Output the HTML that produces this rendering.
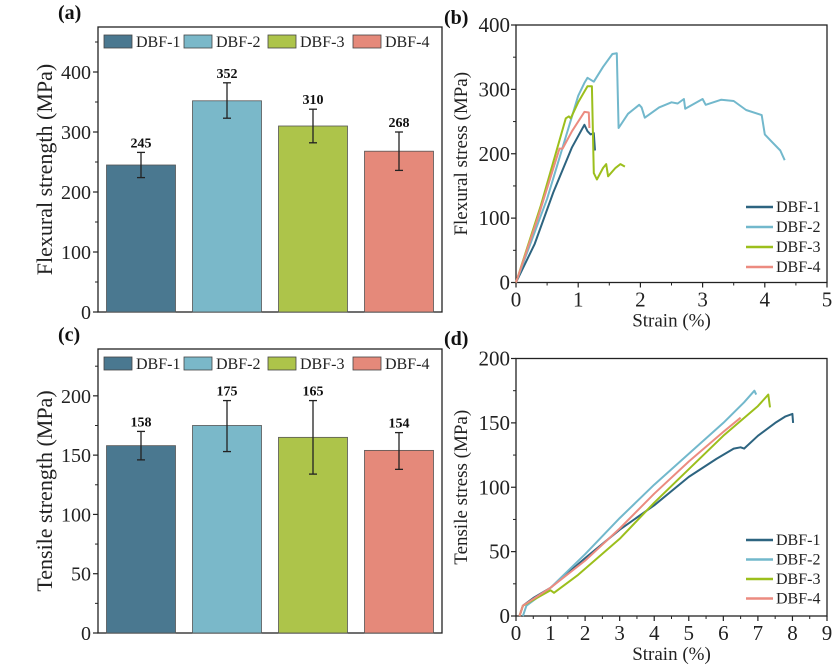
<!DOCTYPE html>
<html><head><meta charset="utf-8"><style>
body{margin:0;background:#fff;}
svg, svg text{font-family:"Liberation Serif","Times New Roman","DejaVu Serif",serif;}
svg{display:block;}
</style></head><body>
<svg id="fig" width="840" height="669" viewBox="0 0 840 669" xmlns="http://www.w3.org/2000/svg" font-family="Liberation Serif, Times New Roman, serif"></svg>
<script>
const barCats = ["DBF-1","DBF-2","DBF-3","DBF-4"];
const barColors = ["#4a7890","#7ab8c9","#adc44a","#e5897a"];
const lineColors = ["#2d6480","#72b8cc","#9cbf1c","#ec8b80"];
const flexVals = [245,352,310,268];
const flexErrHi = [266,382,338,300];
const flexErrLo = [224,323,282,236];
const flexTicks = [0,100,200,300,400];
const tensVals = [158,175,165,154];
const tensErrHi = [170,196,196,169];
const tensErrLo = [146,153,134,138];
const tensTicks = [0,50,100,150,200];
const bX = [0,1,2,3,4,5];
const bY = [0,100,200,300,400];
const flexCurve1 = [[0,0],[0.3,60],[0.6,140],[0.9,210],[1.1,245],[1.15,235],[1.2,230],[1.25,232],[1.27,205]];
const flexCurve2 = [[0,0],[0.5,130],[1,290],[1.1,310],[1.15,318],[1.25,312],[1.4,335],[1.55,355],[1.62,356],[1.65,240],[1.8,262],[1.98,276],[2.02,272],[2.07,256],[2.3,272],[2.5,280],[2.6,278],[2.7,285],[2.72,270],[3,285],[3.05,276],[3.3,284],[3.5,282],[3.7,268],[3.95,260],[4.0,230],[4.1,220],[4.25,205],[4.32,190]];
const flexCurve3 = [[0,0],[0.4,120],[0.8,255],[0.85,258],[0.88,255],[1.0,280],[1.15,305],[1.22,305],[1.25,170],[1.3,160],[1.4,178],[1.45,184],[1.48,165],[1.6,178],[1.68,184],[1.75,180]];
const flexCurve4 = [[0,0],[0.35,100],[0.7,208],[0.75,208],[0.9,235],[1.1,265],[1.17,264],[1.18,240]];
const dX = [0,1,2,3,4,5,6,7,8,9];
const dY = [0,50,100,150,200];
const tensCurve1 = [[0.1,0],[0.2,8],[0.5,14],[1,22],[2,45],[3,67],[4,86],[5,108],[5.8,122],[6.3,130],[6.5,131],[6.6,130],[7,140],[7.5,150],[7.8,155],[8,157],[8.02,150]];
const tensCurve2 = [[0.2,0],[0.3,8],[1,22],[2,48],[3,76],[4,102],[5,126],[6,150],[6.6,166],[6.9,175],[6.95,172]];
const tensCurve3 = [[0.1,0],[0.2,8],[1,20],[1.1,18],[1.8,32],[3,60],[4,88],[5,114],[6,140],[7,163],[7.3,172],[7.35,162]];
const tensCurve4 = [[0.1,0],[0.2,8],[1,22],[2,43],[3,68],[4,95],[5,120],[6,143],[6.5,154]];

const svg = document.getElementById('fig');
const NS = "http://www.w3.org/2000/svg";
const FONT = '"Liberation Serif", "Times New Roman", serif';
function mk(tag, attrs, parent, txt){
  const e = document.createElementNS(NS, tag);
  for (const k in attrs) e.setAttribute(k, attrs[k]);
  if (txt !== undefined) { e.textContent = txt; e.style.fontFamily = FONT; }
  (parent||svg).appendChild(e);
  return e;
}

function barPanel(o){
  const g = mk('g',{});
  
  
  const y = v => o.y0 - (v/o.ymax)*(o.y0-o.top);
  const fr = mk('rect',{x:o.left,y:o.top,width:o.right-o.left,height:o.y0-o.top,fill:'none',stroke:'#222','stroke-width':1.3},g);
  
  
  o.ticks.forEach(t=>{
    mk('line',{x1:o.left-5,x2:o.left,y1:y(t),y2:y(t),stroke:'#222','stroke-width':1.2},g);
    const tl = mk('text',{x:o.left-7,y:y(t)+7,'text-anchor':'end','font-size':20,fill:'#222'},g,String(t));
    
    
    const m = t + o.step/2;
    if (m <= o.ymax) mk('line',{x1:o.left-3,x2:o.left,y1:y(m),y2:y(m),stroke:'#222','stroke-width':1},g);
  });
  o.vals.forEach((v,i)=>{
    const bx = o.barX0 + i*o.pitch;
    const cx = bx + o.bw/2;
    const r = mk('rect',{x:bx,y:y(v),width:o.bw,height:o.y0-y(v),fill:barColors[i],stroke:'#555','stroke-width':0.8},g);
    
    
    mk('line',{x1:cx,x2:cx,y1:y(o.hi[i]),y2:y(o.lo[i]),stroke:'#222','stroke-width':1.3},g);
    mk('line',{x1:cx-4,x2:cx+4,y1:y(o.hi[i]),y2:y(o.hi[i]),stroke:'#222','stroke-width':1.3},g);
    mk('line',{x1:cx-4,x2:cx+4,y1:y(o.lo[i]),y2:y(o.lo[i]),stroke:'#222','stroke-width':1.3},g);
    const lbl = mk('text',{x:cx,y:y(o.hi[i])-5,'text-anchor':'middle','font-size':14,'font-weight':'bold',fill:'#111'},g,String(v));
    
    
  });
  const lx = [104,184,268,353];
  barCats.forEach((c,i)=>{
    const sw = mk('rect',{x:lx[i],y:o.legY,width:28,height:13,fill:barColors[i],stroke:'#444','stroke-width':0.8},g);
    
    
    const lt = mk('text',{x:lx[i]+32,y:o.legY+12,'font-size':16,fill:'#222'},g,c);
    
    
  });
  const at = mk('text',{transform:`translate(${o.titleX},${(o.top+o.y0)/2}) rotate(-90)`,'text-anchor':'middle','font-size':22,fill:'#222'},g,o.title);
  
  
  const pl = mk('text',{x:58,y:o.top-8,'font-size':20,'font-weight':'bold',fill:'#111'},g,o.label);
  
  
}

barPanel({name:'flexural-strength-chart',left:98,right:442,top:27,y0:312,ymax:475,ticks:flexTicks,step:100,vals:flexVals,hi:flexErrHi,lo:flexErrLo,barX0:106.5,pitch:86,bw:69,legY:35,title:'Flexural strength (MPa)',titleX:52,label:'(a)'});
barPanel({name:'tensile-strength-chart',left:98,right:442,top:349,y0:633,ymax:239.5,ticks:tensTicks,step:50,vals:tensVals,hi:tensErrHi,lo:tensErrLo,barX0:106.5,pitch:86,bw:69,legY:357,title:'Tensile strength (MPa)',titleX:52,label:'(c)'});

function linePanel(o){
  const g = mk('g',{});
  
  
  const xmax = o.xt[o.xt.length-1], ymax = o.yt[o.yt.length-1];
  const X = v => o.left + v/xmax*(o.right-o.left);
  const Y = v => o.y0 - v/ymax*(o.y0-o.top);
  const fr = mk('rect',{x:o.left,y:o.top,width:o.right-o.left,height:o.y0-o.top,fill:'none',stroke:'#222','stroke-width':1.3},g);
  
  
  o.xt.forEach((t,i)=>{
    mk('line',{x1:X(t),x2:X(t),y1:o.y0,y2:o.y0+5,stroke:'#222','stroke-width':1.2},g);
    if (i < o.xt.length-1) mk('line',{x1:X(t+0.5),x2:X(t+0.5),y1:o.y0,y2:o.y0+3,stroke:'#222','stroke-width':1},g);
    const tl = mk('text',{x:X(t),y:o.y0+24,'text-anchor':'middle','font-size':21,fill:'#222'},g,String(t));
    
    
  });
  const ystep = o.yt[1]-o.yt[0];
  o.yt.forEach((t,i)=>{
    mk('line',{x1:o.left-5,x2:o.left,y1:Y(t),y2:Y(t),stroke:'#222','stroke-width':1.2},g);
    if (i < o.yt.length-1) mk('line',{x1:o.left-3,x2:o.left,y1:Y(t+ystep/2),y2:Y(t+ystep/2),stroke:'#222','stroke-width':1},g);
    const tl = mk('text',{x:o.left-6,y:Y(t)+7,'text-anchor':'end','font-size':21,fill:'#222'},g,String(t));
    
    
  });
  o.curves.forEach((c,i)=>{
    const p = mk('polyline',{points:c.map(pt=>X(pt[0]).toFixed(1)+','+Y(pt[1]).toFixed(1)).join(' '),fill:'none',stroke:lineColors[i],'stroke-width':2,'stroke-linejoin':'round'},g);
    
    
    const ly = o.legY + i*o.legDy;
    mk('line',{x1:746,x2:773,y1:ly,y2:ly,stroke:lineColors[i],'stroke-width':2.5},g);
    const lt = mk('text',{x:776,y:ly+5,'font-size':16,fill:'#222'},g,barCats[i]);
    
    
  });
  const xt = mk('text',{x:(o.left+o.right)/2,y:o.y0+44,'text-anchor':'middle','font-size':19,fill:'#222'},g,'Strain (%)');
  
  
  const yt = mk('text',{transform:`translate(467,${(o.top+o.y0)/2}) rotate(-90)`,'text-anchor':'middle','font-size':19,fill:'#222'},g,o.title);
  
  
  const pl = mk('text',{x:444,y:o.labelY,'font-size':20,'font-weight':'bold',fill:'#111'},g,o.label);
  
  
}

linePanel({name:'flexural-stress-strain-chart',left:516,right:827,top:25,y0:282.5,xt:bX,yt:bY,curves:[flexCurve1,flexCurve2,flexCurve3,flexCurve4],legY:207,legDy:20,title:'Flexural stress (MPa)',label:'(b)',labelY:24});
linePanel({name:'tensile-stress-strain-chart',left:516,right:827,top:358.5,y0:616,xt:dX,yt:dY,curves:[tensCurve1,tensCurve2,tensCurve3,tensCurve4],legY:540,legDy:19.5,title:'Tensile stress (MPa)',label:'(d)',labelY:345});
</script>
</body></html>
